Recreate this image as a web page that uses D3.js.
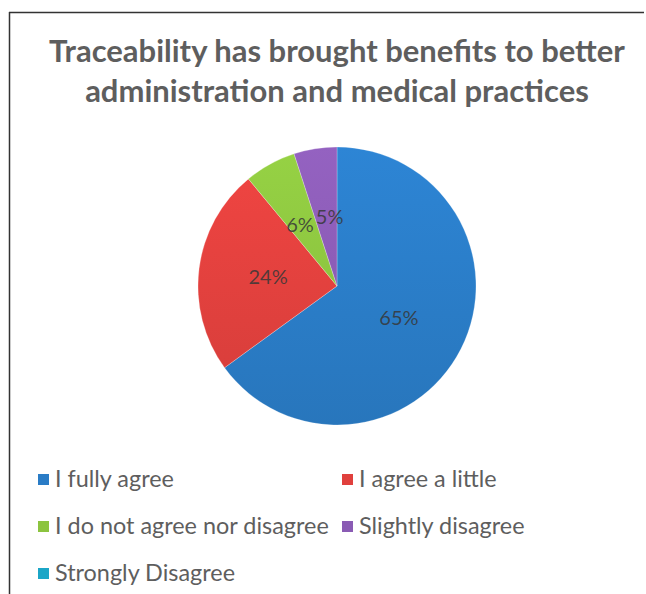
<!DOCTYPE html>
<html><head><meta charset="utf-8">
<script src="https://cdn.jsdelivr.net/npm/d3@7"></script>
<style>html,body{margin:0;padding:0;background:#fff;}svg{display:block;}</style>
</head><body>
<svg id="c" width="646" height="594"></svg>
<script>
const titleLines = ["Traceability has brought benefits to better", "administration and medical practices"];
const categories = ["I fully agree", "I agree a little", "I do not agree nor disagree", "Slightly disagree", "Strongly Disagree"];
const values = [65, 24, 6, 5, 0];
const colors = ["#2a7cc6", "#e0403d", "#8cc43f", "#8a5bb4", "#1ba6c7"];

const svg = d3.select("#c");
const W = 646, H = 594;
const FONT = "Lato, 'Open Sans', sans-serif";
svg.append("rect").attr("width", W).attr("height", H).attr("fill", "#fff");

// frame (top and left edges visible)
svg.append("line").attr("x1", 9).attr("x2", 644).attr("y1", 12.5).attr("y2", 12.5).attr("stroke", "#333").attr("stroke-width", 1.5);
svg.append("line").attr("x1", 9.5).attr("x2", 9.5).attr("y1", 12).attr("y2", 594).attr("stroke", "#333").attr("stroke-width", 1.5);

// title: size fitted so first line spans the measured width
const titleY = [62, 102];
const titleTarget = 576;
const tt = svg.append("g");
const t0 = tt.append("text").attr("font-family", FONT).attr("font-weight", "bold").attr("font-size", 30).text(titleLines[0]);
const tsize = 30 * titleTarget / t0.node().getComputedTextLength();
t0.remove();
titleLines.forEach((t, i) => {
  tt.append("text").attr("x", 337).attr("y", titleY[i]).attr("text-anchor", "middle")
    .attr("font-family", FONT).attr("font-weight", "bold").attr("font-size", tsize)
    .attr("fill", "#5e5e5e").text(t);
});

// gradients
const defs = svg.append("defs");
colors.forEach((c, i) => {
  const g = defs.append("linearGradient").attr("id", "g" + i)
    .attr("gradientUnits", "userSpaceOnUse").attr("x1", 0).attr("y1", -140).attr("x2", 0).attr("y2", 140);
  g.append("stop").attr("offset", 0).attr("stop-color", d3.color(c).brighter(0.2));
  g.append("stop").attr("offset", 1).attr("stop-color", d3.color(c).darker(0.15));
});

const cx = 337, cy = 286, R = 139;
const pie = d3.pie().sort(null).value(d => d.v);
const data = categories.map((k, i) => ({ k, v: values[i], i }));
const arcs = pie(data);
const arc = d3.arc().innerRadius(0).outerRadius(R);
const g = svg.append("g").attr("transform", `translate(${cx},${cy})`);
g.selectAll("path").data(arcs.filter(a => a.data.v > 0)).join("path")
  .attr("d", arc).attr("fill", d => `url(#g${d.data.i})`)
  .attr("stroke", "rgba(255,255,255,0.3)").attr("stroke-width", 0.8);

// labels at the arc centroid (half radius), nudged apart if they collide
const shown = arcs.filter(a => a.data.v > 0);
const pos = shown.map(d => arc.centroid(d));
const labels = g.selectAll("text.lbl").data(shown).join("text")
  .attr("class", "lbl")
  .attr("text-anchor", "middle").attr("dy", "0.35em")
  .attr("font-family", FONT).attr("font-size", 20)
  .attr("fill", "#383838").attr("fill-opacity", 0.85)
  .text(d => d.data.v + "%");
const widths = labels.nodes().map(n => n.getComputedTextLength());
for (let i = 0; i < pos.length - 1; i++) {
  const j = i + 1;
  const need = (widths[i] + widths[j]) / 2 + 2;
  const dx = Math.abs(pos[j][0] - pos[i][0]);
  const dy = Math.abs(pos[j][1] - pos[i][1]);
  if (dy < 20 && dx < need) {
    const s = (need - dx) / 2;
    const dir = pos[j][0] >= pos[i][0] ? 1 : -1;
    pos[i][0] -= s * dir; pos[j][0] += s * dir;
  }
}
labels.attr("transform", (d, k) => `translate(${pos[k][0]},${pos[k][1]})`);

// legend
const legX = [38, 342], legBase = [487, 534, 581];
const legTarget = 274; // measured width of the longest entry
const m = svg.append("text").attr("font-family", FONT).attr("font-size", 20).text(categories[2]);
const lsize = 20 * legTarget / m.node().getComputedTextLength();
m.remove();
const lg = svg.append("g");
data.forEach((d, i) => {
  const col = i % 2, row = Math.floor(i / 2);
  const x = legX[col], y = legBase[row];
  lg.append("rect").attr("x", x).attr("y", y - 13).attr("width", 11).attr("height", 11).attr("fill", colors[i]);
  lg.append("text").attr("x", x + 17).attr("y", y)
    .attr("font-family", FONT).attr("font-size", lsize)
    .attr("fill", "#5e5e5e").text(d.k);
});
</script>
</body></html>
